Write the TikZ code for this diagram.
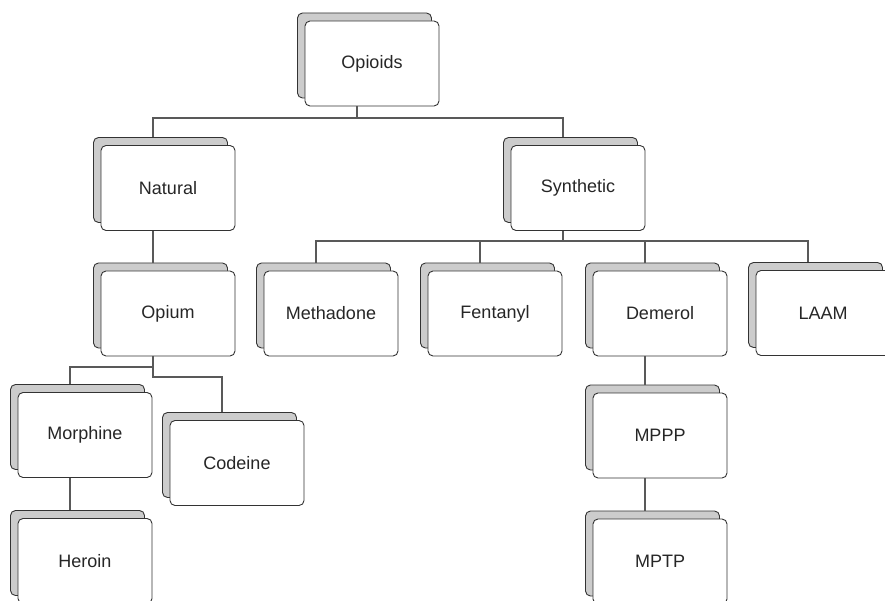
\documentclass[tikz,border=0pt]{standalone}
\usepackage{fontspec}
\setmainfont{Liberation Sans}
\usetikzlibrary{calc}
\begin{document}
\begin{tikzpicture}[x=1pt,y=-1pt,
  front/.style={draw=black!80, line width=0.9pt, fill=white, rounded corners=5pt,
    minimum width=134pt, minimum height=85pt, inner sep=0pt,
    font=\fontsize{18}{22}\selectfont, text=black!85},
  back/.style={draw=black!80, line width=0.9pt, fill=black!20, rounded corners=5pt,
    minimum width=134pt, minimum height=85pt, inner sep=0pt},
  conn/.style={draw=black!65, line width=2pt}]
\useasboundingbox (0,0) rectangle (885,601);
\clip (0,0) rectangle (885,601);
\newcommand\obox[4]{%
  \node[back] (#1-b) at (#2-7.5,#3-8) {};
  \node[front] (#1) at (#2,#3) {#4};
  \coordinate (#1-o) at ([xshift=-15pt]#1.south);
  \coordinate (#1-i) at ([xshift=-7.5pt]#1-b.north);}
\obox{opioids}{372}{63.5}{Opioids}
\obox{natural}{168}{188}{Natural}
\obox{synthetic}{578}{188}{Synthetic}
\obox{methadone}{331}{313.5}{Methadone}
\obox{fentanyl}{495}{313.5}{Fentanyl}
\obox{demerol}{660}{313.5}{Demerol}
\obox{laam}{823}{313}{LAAM}
\obox{opium}{168}{313.5}{Opium}
\obox{morphine}{85}{435}{Morphine}
\obox{codeine}{237}{463}{Codeine}
\obox{heroin}{85}{561}{Heroin}
\obox{mppp}{660}{435.5}{MPPP}
\obox{mptp}{660}{561.5}{MPTP}
% level 1
\draw[conn] (natural-i) |- (synthetic-i |- 0,118) -- (synthetic-i);
\draw[conn] (opioids-o) -- (opioids-o |- 0,118);
% synthetic children
\draw[conn] (methadone-i) |- (laam-i |- 0,241.5) -- (laam-i);
\draw[conn] (synthetic-o) -- (synthetic-o |- 0,241.5);
\draw[conn] (fentanyl-i) -- (fentanyl-i |- 0,241.5);
\draw[conn] (demerol-i) -- (demerol-i |- 0,241.5);
% natural branch
\draw[conn] (natural-o) -- (opium-i);
\draw[conn] (opium-o) -- (opium-o |- 0,377) -| (codeine-i);
\draw[conn] (opium-o |- 0,366.5) -| (morphine-i);
\draw[conn] (morphine-o) -- (heroin-i);
% demerol chain
\draw[conn] (demerol-o) -- (mppp-i);
\draw[conn] (mppp-o) -- (mptp-i);
\end{tikzpicture}
\end{document}
